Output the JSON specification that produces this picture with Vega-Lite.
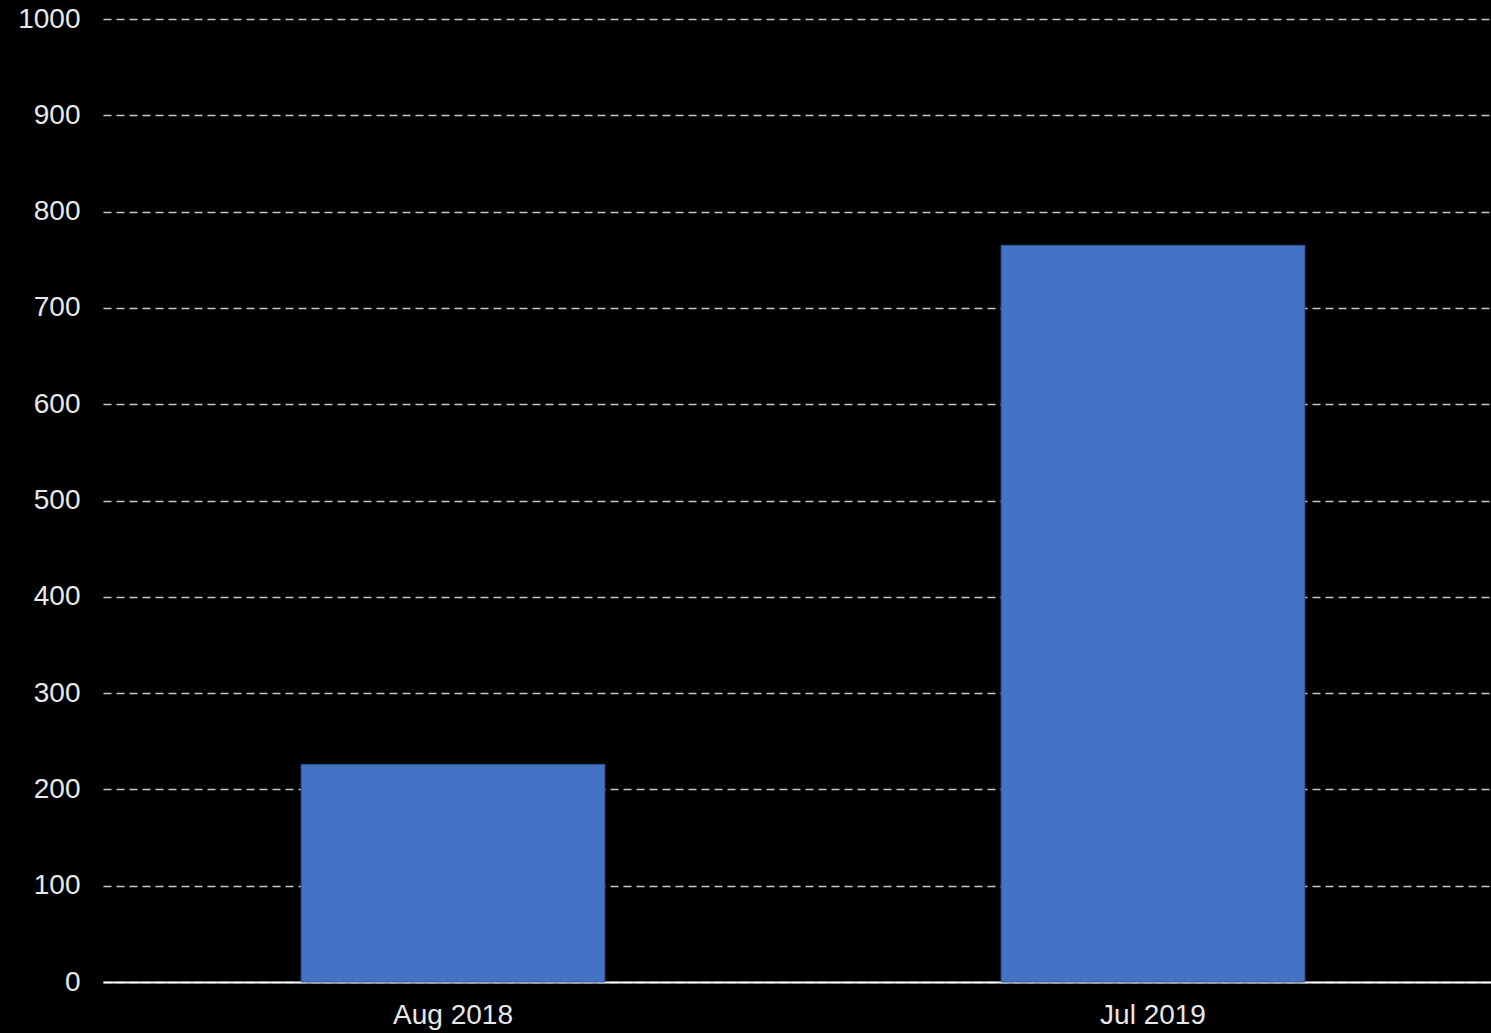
{
  "$schema": "https://vega.github.io/schema/vega-lite/v6.json",
  "width": 1400,
  "height": 963,
  "autosize": {"type": "none"},
  "padding": {"left": 103, "top": 19, "right": 0, "bottom": 51},
  "background": "#000000",
  "config": {"view": {"stroke": null}},
  "data": {"values": [
    {"month": "Aug 2018", "value": 226},
    {"month": "Jul 2019", "value": 765}
  ]},
  "mark": {"type": "bar", "color": "#4472C4", "stroke": "#2F528F", "strokeWidth": 1},
  "encoding": {
    "x": {
      "field": "month", "type": "nominal", "sort": null,
      "scale": {"paddingInner": 0.566, "paddingOuter": 0.283},
      "axis": {"title": null, "labelAngle": 0, "labelFont": "Liberation Sans", "labelFontSize": 28, "labelColor": "#e8e8e8", "ticks": false, "labelPadding": 19, "domainColor": "#ffffff", "domainWidth": 2, "grid": false}
    },
    "y": {
      "field": "value", "type": "quantitative",
      "scale": {"domain": [0, 1000], "nice": false},
      "axis": {"title": null, "format": "d", "values": [0,100,200,300,400,500,600,700,800,900,1000], "labelFont": "Liberation Sans", "labelFontSize": 28, "labelColor": "#e8e8e8", "ticks": false, "labelPadding": 23, "domain": false, "grid": true, "gridColor": "#c8c8c8", "gridDash": [8, 5], "gridWidth": 1.5}
    }
  }
}
